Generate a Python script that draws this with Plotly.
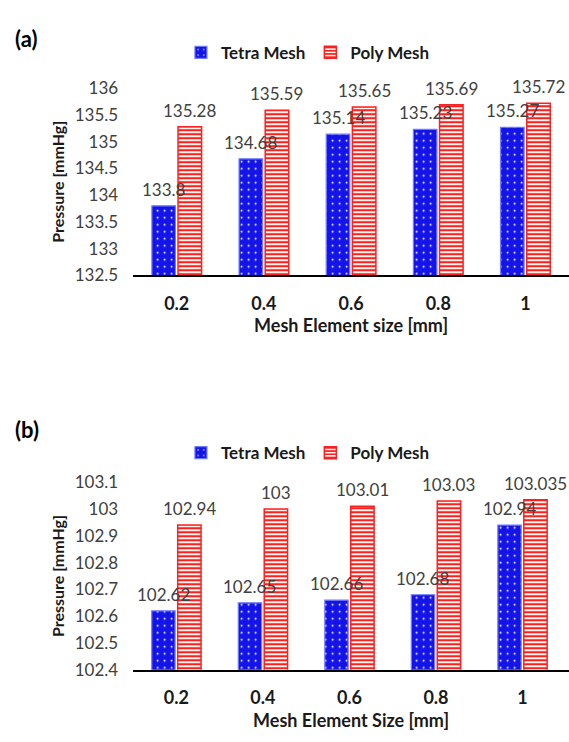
import plotly.graph_objects as go

# Mesh element sizes (category labels)
sizes = ["0.2", "0.4", "0.6", "0.8", "1"]

# Panel (a): pressure [mmHg]
a_tetra = [133.8, 134.68, 135.14, 135.23, 135.27]
a_poly = [135.28, 135.59, 135.65, 135.69, 135.72]

# Panel (b): pressure [mmHg]
b_tetra = [102.62, 102.65, 102.66, 102.68, 102.94]
b_poly = [102.94, 103.0, 103.01, 103.03, 103.035]

FONT = "Lato"
LABEL_COLOR = "#404040"
BLUE = "#1414e8"
RED = "#ff1f1f"
BAR_SHIFT = 13  # px offset of each bar centre from its category centre


def fmt(v):
    return f"{v:g}"


def tetra_trace(vals, xa, ya, legend):
    return go.Bar(
        x=sizes, y=vals, name="Tetra Mesh",
        xaxis=xa, yaxis=ya, legend=legend,
        marker=dict(
            color=BLUE,
            line=dict(color="#6f7bff", width=1.2),
            pattern=dict(shape=".", fgcolor="#ffffff", bgcolor=BLUE,
                         size=7, solidity=0.06, fillmode="replace"),
        ),
    )


def poly_trace(vals, xa, ya, legend):
    return go.Bar(
        x=sizes, y=vals, name="Poly Mesh",
        xaxis=xa, yaxis=ya, legend=legend,
        marker=dict(
            color=RED,
            line=dict(color=RED, width=1.5),
            pattern=dict(shape="-", fgcolor=RED, bgcolor="#fff4ee",
                         size=4, solidity=0.5, fillmode="replace"),
        ),
    )


def value_labels(vals, xref, yref, shift):
    # value labels sit above each bar and are drawn over neighbouring bars;
    # x is the category index on the category axis
    return [
        dict(text=fmt(v), x=i, y=v, xref=xref, yref=yref,
             xshift=shift, yshift=4, yanchor="bottom", showarrow=False,
             font=dict(family=FONT, size=17, color=LABEL_COLOR))
        for i, v in enumerate(vals)
    ]


fig = go.Figure()
fig.add_trace(tetra_trace(a_tetra, "x", "y", "legend"))
fig.add_trace(poly_trace(a_poly, "x", "y", "legend"))
fig.add_trace(tetra_trace(b_tetra, "x2", "y2", "legend2"))
fig.add_trace(poly_trace(b_poly, "x2", "y2", "legend2"))

xcommon = dict(
    type="category", showgrid=False, zeroline=False,
    showline=True, linecolor="#000000", linewidth=1.5,
    ticks="", ticklabelstandoff=11,
    tickfont=dict(family=FONT, size=18, color="#1a1a1a", weight="bold"),
    title_standoff=7,
    title_font=dict(family=FONT, size=18, color="#1a1a1a", weight="bold"),
)
ycommon = dict(
    showgrid=False, zeroline=False, showline=False, ticks="",
    ticklabelstandoff=14,
    tickfont=dict(family=FONT, size=17, color=LABEL_COLOR),
    title_standoff=6,
    title_font=dict(family=FONT, size=16, color="#1a1a1a", weight="bold"),
)

legend_common = dict(
    orientation="h", xanchor="left", yanchor="middle",
    font=dict(family=FONT, size=17, color="#1a1a1a", weight="bold"),
    bgcolor="rgba(0,0,0,0)", itemclick=False, traceorder="normal",
)

annotations = [
    dict(text="(a)", xref="paper", yref="paper", x=0.022, y=0.962,
         xanchor="left", yanchor="middle", showarrow=False,
         font=dict(family=FONT, size=22, color="#000000", weight="bold")),
    dict(text="(b)", xref="paper", yref="paper", x=0.022, y=0.4191,
         xanchor="left", yanchor="middle", showarrow=False,
         font=dict(family=FONT, size=22, color="#000000", weight="bold")),
]
annotations += value_labels(a_tetra, "x", "y", -BAR_SHIFT)
annotations += value_labels(a_poly, "x", "y", BAR_SHIFT)
annotations += value_labels(b_tetra, "x2", "y2", -BAR_SHIFT)
annotations += value_labels(b_poly, "x2", "y2", BAR_SHIFT)

fig.update_layout(
    width=569, height=742,
    margin=dict(l=0, r=0, t=0, b=0),
    paper_bgcolor="white", plot_bgcolor="white",
    barmode="group", bargap=0.4, bargroupgap=0.1,
    xaxis=dict(domain=[0.234, 1.0], anchor="y",
               title_text="Mesh Element size [mm]", **xcommon),
    yaxis=dict(domain=[0.6334, 0.8929], anchor="x", range=[132.5, 136],
               dtick=0.5, title_text="Pressure [mmHg]", **ycommon),
    xaxis2=dict(domain=[0.234, 1.0], anchor="y2",
                title_text="Mesh Element Size [mm]", **xcommon),
    yaxis2=dict(domain=[0.0863, 0.3464], anchor="x2", range=[102.4, 103.1],
                dtick=0.1, title_text="Pressure [mmHg]", **ycommon),
    legend=dict(x=0.318, y=0.942, **legend_common),
    legend2=dict(x=0.318, y=0.3868, **legend_common),
    annotations=annotations,
)

fig.write_html("out.html")
